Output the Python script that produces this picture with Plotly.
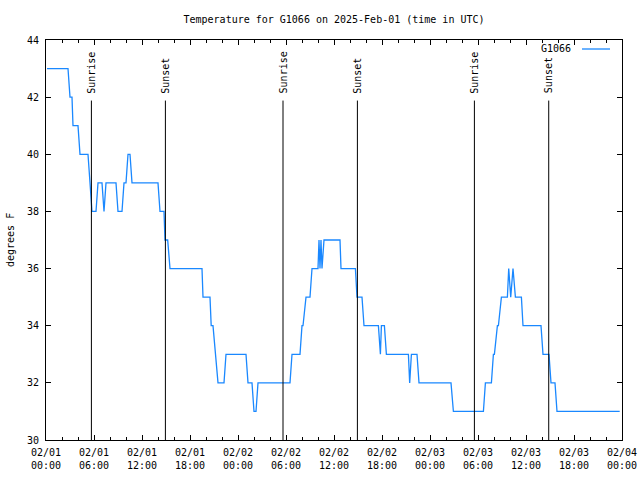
import plotly.graph_objects as go
import pandas as pd

# ---- data (hours after 2025-02-01 00:00 UTC, temperature in degrees F) ----
hours = [0.125, 2.75, 3.0, 3.25, 3.375, 4.0, 4.25, 5.25, 5.75, 6.25, 6.5, 7.0, 7.25, 7.5,
         8.75, 9.0, 9.5, 9.75, 10.0, 10.25, 10.5, 10.75, 14.0, 14.25, 14.75, 14.875,
         15.21, 15.5, 19.5, 19.625, 20.5, 20.65, 20.875, 21.5, 22.25, 22.5, 25.0, 25.25,
         25.75, 26.0, 26.25, 26.5, 30.5, 30.75, 31.75, 32.0, 32.125, 32.5, 33.0, 33.25,
         34.0, 34.125, 34.25, 34.375, 34.5, 34.75, 36.75, 36.875, 38.675, 38.875, 39.5,
         39.75, 41.55, 41.8, 41.925, 42.3, 42.55, 45.3, 45.46, 45.675, 46.375, 46.625,
         50.625, 50.925, 54.675, 54.925, 55.675, 55.925, 56.05, 56.425, 56.55, 56.925,
         57.675, 57.84, 58.09, 58.375, 58.675, 59.425, 59.625, 61.875, 62.125, 62.875,
         63.125, 63.625, 63.875, 71.71]
temps = [43, 43, 42, 42, 41, 41, 40, 40, 38, 38, 39, 39, 38, 39,
         39, 38, 38, 39, 39, 40, 40, 39, 39, 38, 38, 37,
         37, 36, 36, 35, 35, 34, 34, 32, 32, 33, 33, 32,
         32, 31, 31, 32, 32, 33, 33, 34, 34, 35, 35, 36,
         36, 37, 36, 37, 36, 37, 37, 36, 36, 35, 35,
         34, 34, 33, 34, 34, 33, 33, 32, 33, 33, 32,
         32, 31, 31, 32, 32, 33, 33, 34, 34, 35,
         35, 36, 35, 36, 35, 35, 34, 34, 33, 33,
         32, 32, 31, 31]
sun_hours = [5.675, 14.925, 29.625, 38.925, 53.55, 62.84]
sun_labels = ["Sunrise", "Sunset", "Sunrise", "Sunset", "Sunrise", "Sunset"]
station = "G1066"
title_text = "Temperature for G1066 on 2025-Feb-01 (time in UTC)"
y_title = "degrees F"

base = pd.Timestamp("2025-02-01 00:00:00")
times = [base + pd.Timedelta(hours=h) for h in hours]
sun_times = [base + pd.Timedelta(hours=h) for h in sun_hours]

FONT = "DejaVu Sans Mono"
BLUE = "#1a88ff"

fig = go.Figure()
fig.add_trace(go.Scatter(x=times, y=temps, mode="lines", name=station,
                         line=dict(color=BLUE, width=1.3), showlegend=False))

shapes = []
annotations = []
for t, lab in zip(sun_times, sun_labels):
    shapes.append(dict(type="line", xref="x", yref="y", x0=t, x1=t, y0=30, y1=41.88,
                       line=dict(color="black", width=1)))
    annotations.append(dict(x=t, y=42.06, xref="x", yref="y", text=lab, textangle=-90,
                            showarrow=False, xanchor="center", yanchor="bottom",
                            font=dict(family=FONT, size=10, color="black")))

# legend (gnuplot style: text then sample line)
annotations.append(dict(x=(573 - 46) / 576, y=(440 - 49) / 400, xref="paper", yref="paper",
                        text=station, showarrow=False, xanchor="right", yanchor="middle",
                        font=dict(family=FONT, size=10, color="black")))
shapes.append(dict(type="line", xref="paper", yref="paper",
                   x0=(582 - 46) / 576, x1=(610 - 46) / 576,
                   y0=(440 - 49) / 400, y1=(440 - 49) / 400,
                   line=dict(color=BLUE, width=1.3)))

# y-axis title
annotations.append(dict(x=0, xshift=-36, y=0.5, xref="paper", yref="paper", text=y_title,
                        textangle=-90, showarrow=False, xanchor="center", yanchor="middle",
                        font=dict(family=FONT, size=10, color="black")))

fig.update_layout(
    width=640, height=480,
    margin=dict(l=46, r=18, t=40, b=40, autoexpand=False),
    paper_bgcolor="white", plot_bgcolor="white",
    font=dict(family=FONT, size=10, color="black"),
    title=dict(text=title_text, x=0.5, xref="paper", y=1 - 19 / 480, yanchor="middle",
               font=dict(family=FONT, size=10, color="black")),
    shapes=shapes, annotations=annotations,
    showlegend=False,
)
fig.update_xaxes(
    type="date", automargin=False,
    range=[base, base + pd.Timedelta(hours=72)],
    tick0=base, dtick=6 * 3600 * 1000, tickformat="%m/%d<br>%H:%M",
    ticks="inside", ticklen=5, tickcolor="black", tickwidth=1,
    minor=dict(dtick=2 * 3600 * 1000, ticks="inside", ticklen=3, tickcolor="black"),
    showline=True, linecolor="black", linewidth=1, mirror="allticks",
    showgrid=False, zeroline=False, ticklabelstandoff=3,
)
fig.update_yaxes(
    automargin=False,
    range=[30, 44], dtick=2, tick0=30,
    ticks="inside", ticklen=5, tickcolor="black", tickwidth=1,
    showline=True, linecolor="black", linewidth=1, mirror="allticks",
    showgrid=False, zeroline=False, ticklabelstandoff=4,
)

fig.write_html("out.html", config={"displayModeBar": False},
               post_script="document.body.style.margin='0';document.body.style.overflow='hidden';")
